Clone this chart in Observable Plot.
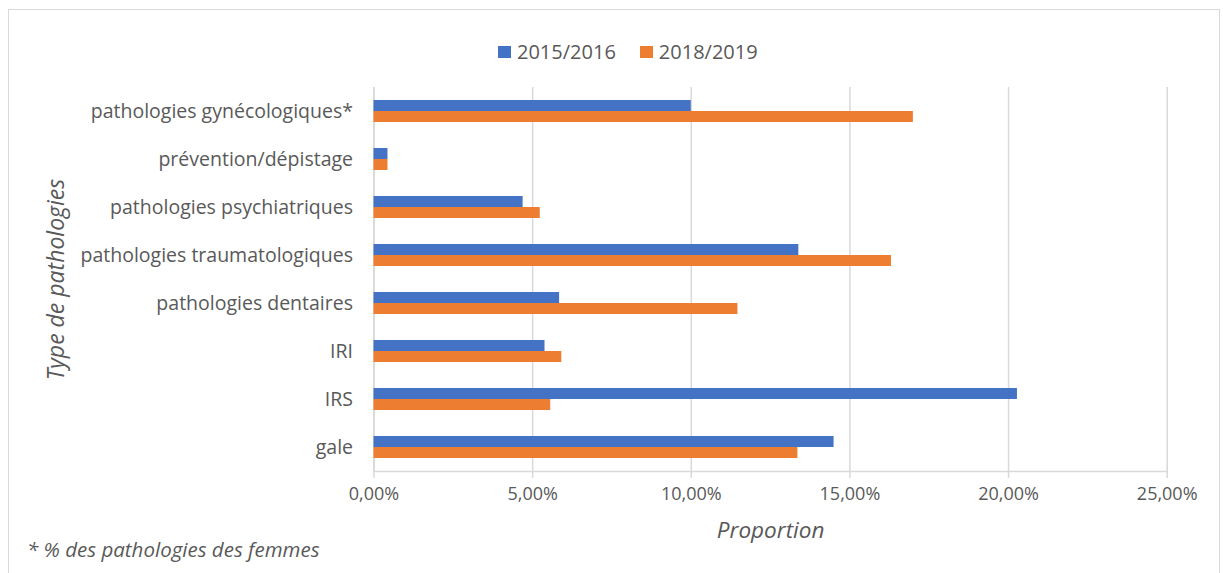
<!DOCTYPE html>
<html>
<head>
<meta charset="utf-8">
<script src="https://cdn.jsdelivr.net/npm/d3@7"></script>
<script src="https://cdn.jsdelivr.net/npm/@observablehq/plot@0.6"></script>
<style>
  body { margin: 0; background: #fff; font-family: "Open Sans", sans-serif; color: #595959; }
  #wrap { position: relative; width: 1223px; height: 573px; overflow: hidden; }
  #frame { position: absolute; left: 8px; top: 9px; width: 1212px; height: 600px;
           border: 1.5px solid #d9d9d9; border-bottom: none; box-sizing: border-box; }
  #legend { position: absolute; top: 38px; left: 498px; display: flex; align-items: center;
            font-size: 20px; color: #595959; white-space: nowrap; }
  #legend .sw { display: inline-block; width: 13px; height: 12px; margin-right: 6px; }
  #legend .item { display: flex; align-items: center; margin-right: 24px; }
  #chart { position: absolute; left: 0; top: 70px; }
  #note { position: absolute; left: 27px; top: 535px; font-style: italic; font-size: 20.5px; color: #595959; white-space: nowrap; }
</style>
</head>
<body>
<div id="wrap">
  <div id="frame"></div>
  <div id="legend"></div>
  <div id="chart"></div>
  <div id="note">* % des pathologies des femmes</div>
</div>
<script>
// Share of consultations by type of pathology, two periods
const categories = [
  "pathologies gynécologiques*",
  "prévention/dépistage",
  "pathologies psychiatriques",
  "pathologies traumatologiques",
  "pathologies dentaires",
  "IRI",
  "IRS",
  "gale"
];
const values2015 = [0.100, 0.0044, 0.0470, 0.1339, 0.0585, 0.0539, 0.2028, 0.1450];
const values2018 = [0.170, 0.0044, 0.0524, 0.1631, 0.1147, 0.0592, 0.0557, 0.1336];
const series = ["2015/2016", "2018/2019"];
const colors = ["#4472C4", "#ED7D31"];
const xTicks = [0, 0.05, 0.10, 0.15, 0.20, 0.25];

const rows2015 = categories.map((c, i) => ({category: c, value: values2015[i], series: series[0]}));
const rows2018 = categories.map((c, i) => ({category: c, value: values2018[i], series: series[1]}));

const fmt = d => (d * 100).toFixed(2).replace(".", ",") + "%";
const grey = "#d9d9d9";
const ink = "#595959";

// Legend
const legend = document.getElementById("legend");
series.forEach((s, i) => {
  const item = document.createElement("span");
  item.className = "item";
  item.innerHTML = `<span class="sw" style="background:${colors[i]}"></span>${s}`;
  legend.appendChild(item);
});

const chart = Plot.plot({
  width: 1223,
  height: 485,
  marginLeft: 373.5,
  marginRight: 56.3,
  marginTop: 17,
  marginBottom: 84,
  style: {fontFamily: "'Open Sans', sans-serif", color: ink, background: "transparent"},
  x: {domain: [0, 0.25]},
  y: {domain: categories, paddingInner: 26 / 48, paddingOuter: 13 / 48, align: 0.5},
  marks: [
    Plot.gridX(xTicks, {stroke: grey, strokeOpacity: 1, strokeWidth: 1.5}),
    Plot.ruleX([0], {stroke: grey, strokeWidth: 1.5}),
    Plot.frame({anchor: "bottom", stroke: grey, strokeWidth: 1.5}),
    Plot.axisX({ticks: xTicks, tickFormat: fmt, tickSize: 7, tickPadding: 9, stroke: grey,
                strokeWidth: 1.5, fill: ink, fontSize: 18, label: null}),
    Plot.axisY({tickSize: 0, tickPadding: 21, fill: ink, fontSize: 19.5, label: null}),
    Plot.barX(rows2015, {x: "value", y: "category", fill: colors[0], insetBottom: 11}),
    Plot.barX(rows2018, {x: "value", y: "category", fill: colors[1], insetTop: 11}),
    Plot.text(["Type de pathologies"], {frameAnchor: "left", text: d => d, rotate: -90, dx: -317,
                textAnchor: "middle", fontStyle: "italic", fontSize: 23, fill: ink}),
    Plot.text(["Proportion"], {frameAnchor: "bottom", text: d => d, dy: 66,
                fontStyle: "italic", fontSize: 22.5, fill: ink})
  ]
});
document.getElementById("chart").appendChild(chart);
</script>
</body>
</html>
